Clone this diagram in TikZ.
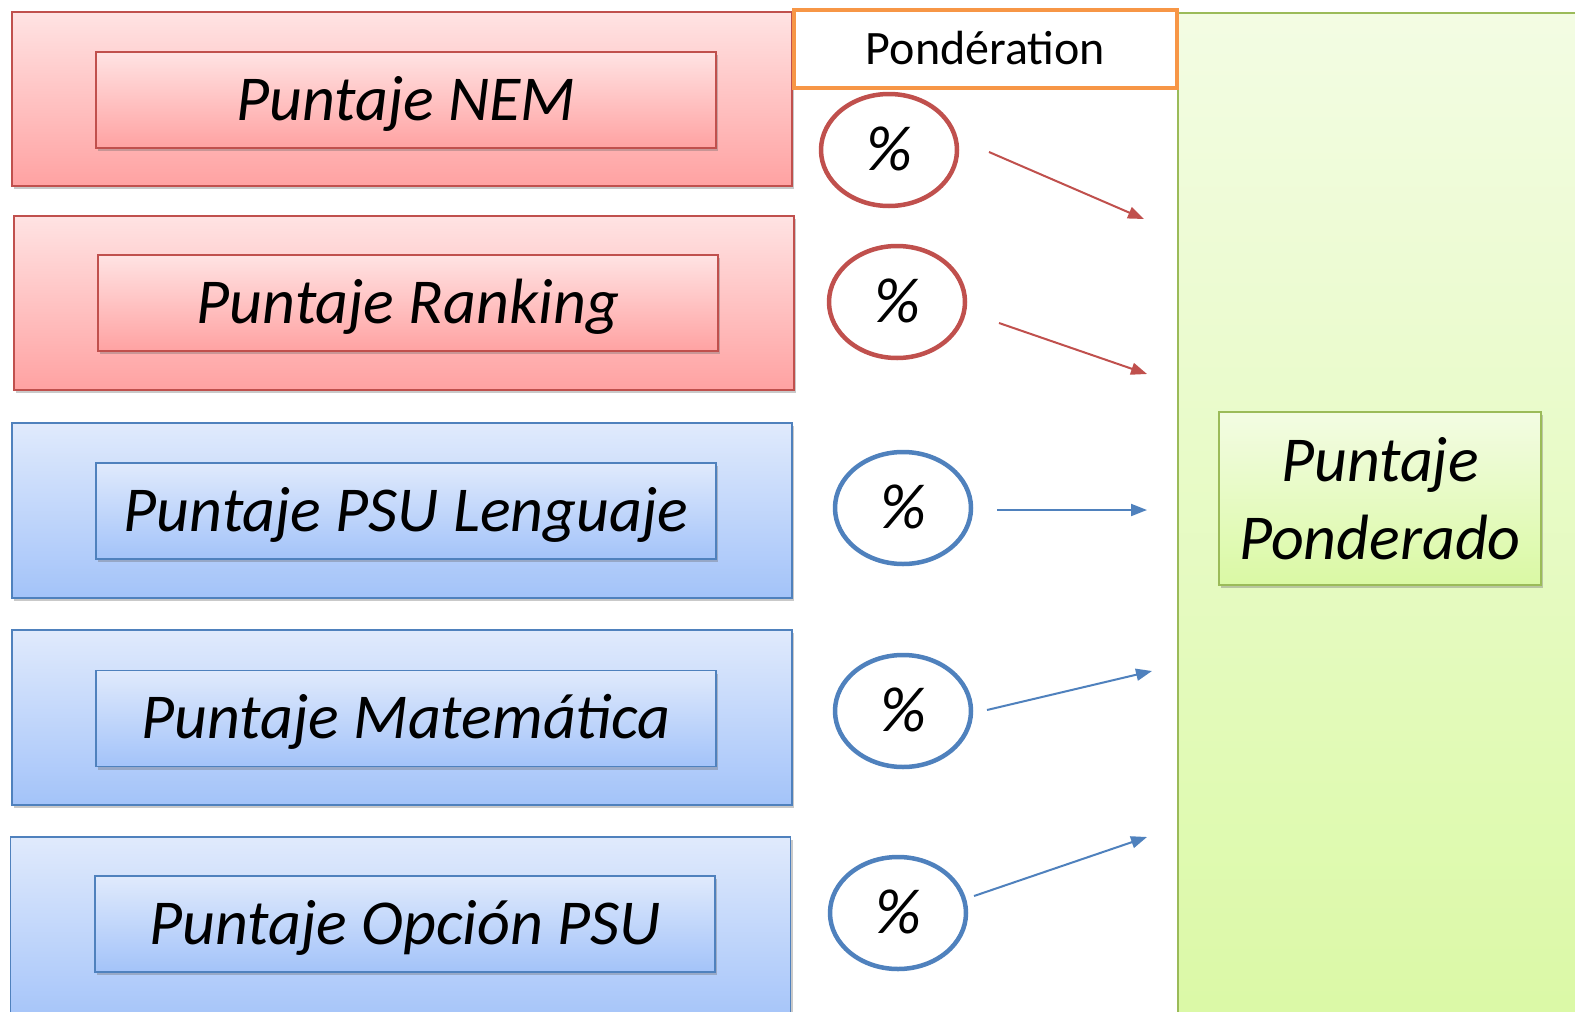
\documentclass[tikz,border=0pt]{standalone}
\usepackage{fontspec}
\setmainfont{Carlito}
\usetikzlibrary{arrows.meta,shadows,shapes.geometric}
\definecolor{redb}{HTML}{C0504D}
\definecolor{redt}{HTML}{FFE3E3}
\definecolor{redbot}{HTML}{FFA2A2}
\definecolor{blueb}{HTML}{4F81BD}
\definecolor{bluet}{HTML}{E0EAFC}
\definecolor{bluebot}{HTML}{A3C3F9}
\definecolor{greenb}{HTML}{9BBB59}
\definecolor{greent}{HTML}{F3FCE3}
\definecolor{greenbot}{HTML}{DAF9A4}
\definecolor{orangeb}{HTML}{F79646}
\begin{document}
\begin{tikzpicture}[x=1pt,y=-1pt,
  capc/.style={text height=40.5pt,text depth=0pt},
  big/.style={font=\fontsize{64}{78}\selectfont\itshape},
  shd/.style={drop shadow={shadow xshift=2pt,shadow yshift=-3pt,opacity=0.35,fill=black!60}},
  outerred/.style={draw=redb,line width=1.5pt,top color=redt,bottom color=redbot,shd,minimum width=780pt,minimum height=174pt,inner sep=0pt},
  innerred/.style={draw=redb,line width=1.5pt,top color=redt,bottom color=redbot,shd,minimum width=620pt,minimum height=96pt,inner sep=0pt,big,capc},
  outerblue/.style={draw=blueb,line width=1.5pt,top color=bluet,bottom color=bluebot,shd,minimum width=780pt,minimum height=175pt,inner sep=0pt},
  innerblue/.style={draw=blueb,line width=1.5pt,top color=bluet,bottom color=bluebot,shd,minimum width=620pt,minimum height=96pt,inner sep=0pt,big,capc},
  pct/.style={ellipse,line width=4.5pt,minimum width=136pt,minimum height=112pt,inner sep=0pt,big,capc},
  redarr/.style={draw=redb,line width=2pt,-{Triangle[length=16pt,width=12pt]}},
  bluearr/.style={draw=blueb,line width=2pt,-{Triangle[length=16pt,width=12pt]}}
]
\useasboundingbox (0,0) rectangle (1575,1012);
\clip (0,0) rectangle (1575,1012);
\fill[white] (0,0) rectangle (1575,1012);

% green result area
\node[draw=greenb,line width=1.5pt,top color=greent,bottom color=greenbot,minimum width=420pt,minimum height=1040pt,inner sep=0pt,anchor=north west] (area) at (1177,12) {};

% left boxes
\node[outerred] (o1) at (402,99) {};
\node[innerred] (i1) at (406,100) {Puntaje NEM};
\node[outerred] (o2) at (404,303) {};
\node[innerred] (i2) at (408,303) {Puntaje Ranking};
\node[outerblue] (o3) at (402,510.5) {};
\node[innerblue] (i3) at (406,511) {Puntaje PSU Lenguaje};
\node[outerblue] (o4) at (402,717.5) {};
\node[innerblue] (i4) at (406,718.5) {Puntaje Matemática};
\node[outerblue,minimum height=190pt,anchor=north] (o5) at (400.5,836) {};
\node[innerblue] (i5) at (405,924) {Puntaje Opción PSU};

% ponderation header
\node[draw=orangeb,line width=3.5pt,fill=white,minimum width=383pt,minimum height=78pt,inner sep=0pt,font=\fontsize{48}{56}\selectfont,text height=30pt,text depth=0pt] (pond) at (985.5,49) {Pondération};

% percentage circles
\node[pct,draw=redb] (p1) at (889,150) {\%};
\node[pct,draw=redb] (p2) at (897,302) {\%};
\node[pct,draw=blueb] (p3) at (903,508) {\%};
\node[pct,draw=blueb] (p4) at (903,711) {\%};
\node[pct,draw=blueb] (p5) at (898,913) {\%};

% result
\node[draw=greenb,line width=1.5pt,top color=greent,bottom color=greenbot,shd,minimum width=322pt,minimum height=173pt,inner sep=0pt,align=center,big] (res) at (1380,498.5) {Puntaje\\Ponderado};

% arrows
\coordinate (s1) at (989,152); \coordinate (e1) at (1144,219);
\coordinate (s2) at (999,323); \coordinate (e2) at (1147,374);
\coordinate (s3) at (997,510); \coordinate (e3) at (1147,510);
\coordinate (s4) at (987,710); \coordinate (e4) at (1152,671);
\coordinate (s5) at (974,896); \coordinate (e5) at (1147,837);
\draw[redarr] (s1) -- (e1);
\draw[redarr] (s2) -- (e2);
\draw[bluearr] (s3) -- (e3);
\draw[bluearr] (s4) -- (e4);
\draw[bluearr] (s5) -- (e5);
\end{tikzpicture}
\end{document}
